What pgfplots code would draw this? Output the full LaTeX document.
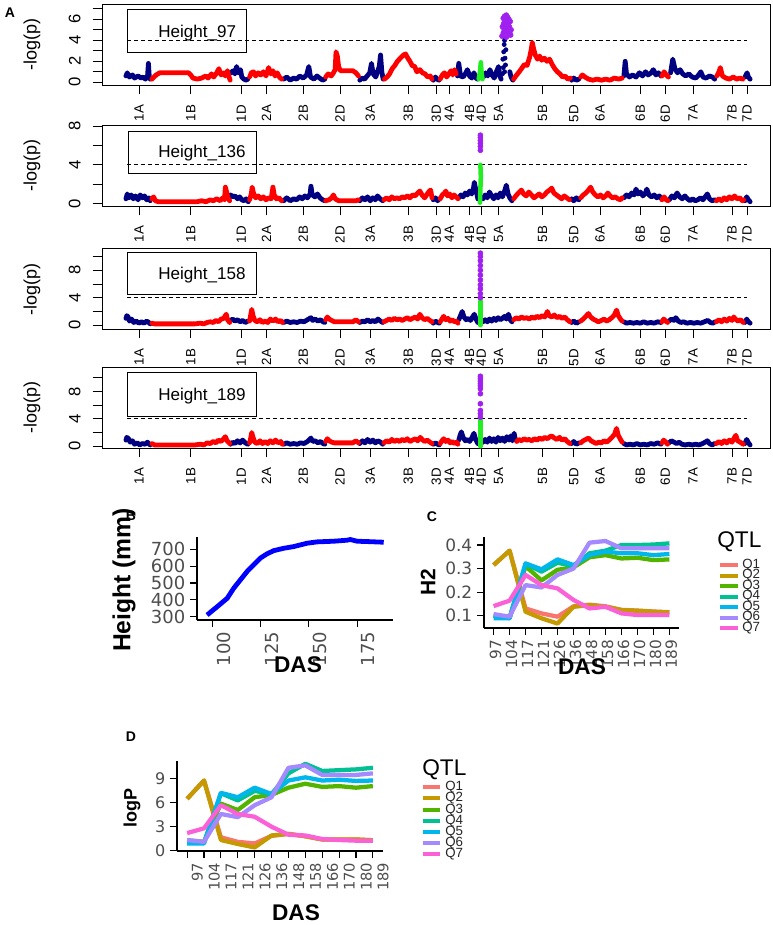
\documentclass[border=0pt]{standalone}
\usepackage{pgfplots}
\pgfplotsset{compat=1.18}
\usepackage{fontspec}
\setmainfont{Liberation Sans}
\newfontfamily\dejavu{DejaVu Sans}
\definecolor{navyR}{HTML}{000080}
\definecolor{redR}{HTML}{FF0000}
\definecolor{greenR}{HTML}{22EE22}
\definecolor{purpleR}{HTML}{A020F0}
\definecolor{gg1}{HTML}{F8766D}
\definecolor{gg2}{HTML}{C49A00}
\definecolor{gg3}{HTML}{53B400}
\definecolor{gg4}{HTML}{00C094}
\definecolor{gg5}{HTML}{00B6EB}
\definecolor{gg6}{HTML}{A58AFF}
\definecolor{gg7}{HTML}{FB61D7}
\definecolor{gray4D}{HTML}{4D4D4D}
\newcommand{\fs}[1]{\fontsize{#1}{#1}\selectfont}
\pgfplotsset{
  manh/.style={
    scale only axis, width=501pt, height=60.75pt, anchor=south west,
    xmin=4.6, xmax=1550,
    xtick={90,210,327,385,470,555,625,713,778,808,855,882,922,1024,1096,1157,1250,1308,1372,1462,1497},
    xticklabels={1A,1B,1D,2A,2B,2D,3A,3B,3D,4A,4B,4D,5A,5B,5D,6A,6B,6D,7A,7B,7D},
    tick align=outside, xtick pos=bottom, ytick pos=left,
    major tick length=7pt,
    tick style={black, line width=0.6pt},
    axis line style={line width=0.6pt},
    xticklabel style={rotate=90, anchor=east, font=\fs{10}, xshift=-4.5pt},
    yticklabel style={rotate=90, anchor=south, font=\fs{12.5}, yshift=5.5pt},
    /pgf/number format/assume math mode=true,
    unbounded coords=jump,
  },
  blu/.style={navyR, line width=3.6pt, line join=round, line cap=round},
  rd/.style={redR, line width=3.6pt, line join=round, line cap=round},
  grn/.style={greenR, line width=3.4pt, line join=round, line cap=round},
  pur/.style={only marks, mark=*, mark size=1.9pt, purpleR},
  thr/.style={black, line width=0.6pt, dash pattern=on 3pt off 2.2pt},
  gg/.style={
    scale only axis, anchor=south west,
    axis x line*=bottom, axis y line*=left,
    axis line style={line width=0.8pt},
    tick align=outside, major tick length=5.25pt,
    tick style={black, line width=0.8pt},
    /pgf/number format/assume math mode=true,
  },
  ql/.style={line width=3.2pt, line join=round},
}
\begin{document}
\begin{tikzpicture}[x=0.75pt,y=-0.75pt]
\useasboundingbox (0,0) rectangle (773,925);
% ---------------- Panel A1 -----------------
\begin{axis}[manh, at={(102*0.75pt,-85*0.75pt)}, ymin=-0.26, ymax=7.46,
  ytick={0,1,2,3,4,5,6,7}, yticklabels={0,,2,,4,,6,}]
\addplot[thr] coordinates {(63,4) (1497,4)};
\addplot[blu] coordinates {
(60,0.6)(63,0.9)(68,0.5)(75,0.7)(80,0.4)(88,0.6)(95,0.4)(100,0.5)(105,0.3)(110,0.6)(112,1.8)(114,0.5)(116,0.3)
(200,nan)
(303,0.9)(308,1.1)(312,0.8)(316,1.5)(320,0.9)(325,1.2)(328,0.5)(333,0.3)(338,0.2)(342,0.3)
(400,nan)
(425,0.3)(432,0.5)(440,0.2)(448,0.4)(455,0.3)(462,0.6)(470,0.4)(478,0.7)(483,1.5)(487,0.5)(495,0.3)(502,0.6)(508,0.4)(515,0.2)(520,0.3)
(560,nan)
(601,0.2)(606,0.4)(612,0.3)(618,0.6)(624,0.9)(628,1.8)(632,0.8)(638,0.5)(642,1.0)(646,1.5)(649,2.6)(652,1.0)(655,0.3)
(700,nan)
(771,0.2)(776,0.5)(780,0.3)(784,0.2)
(800,nan)
(827,0.6)(830,1.8)(834,0.6)(840,0.5)(845,0.8)(850,1.2)(855,0.6)(860,0.4)(865,0.9)(870,0.4)(873,0.3)
(875,nan)
(887,0.5)(892,0.9)(897,0.6)(902,1.2)(907,0.7)(912,0.4)(917,1.0)(922,1.5)(925,0.6)(928,0.3)
(930,nan)
(948,1.0)(951,0.5)(955,0.2)
(1000,nan)
(1091,0.2)(1096,0.4)(1102,0.2)(1108,0.3)
(1150,nan)
(1212,0.6)(1215,2.0)(1218,0.8)(1225,0.5)(1232,0.7)(1240,0.5)(1248,0.9)(1255,0.6)(1262,1.0)(1268,0.7)(1275,0.9)(1280,1.2)(1286,0.7)(1292,0.9)(1298,0.6)
(1310,nan)
(1320,0.9)(1325,2.2)(1330,1.3)(1336,0.9)(1342,1.2)(1348,0.8)(1355,0.6)(1362,0.8)(1370,0.5)(1378,0.4)(1385,0.7)(1390,1.0)(1395,0.5)(1402,0.4)(1410,0.6)(1417,0.5)(1422,0.3)
(1450,nan)
(1492,0.5)(1497,0.9)(1500,0.5)(1504,0.3)
};
\addplot[rd] coordinates {
(120,0.3)(125,0.5)(130,0.7)(138,0.9)(150,0.9)(170,0.9)(190,0.9)(205,0.9)(210,0.7)(215,0.4)(225,0.3)(235,0.4)(245,0.6)(250,0.4)(258,0.8)(263,0.5)(270,0.9)(275,1.3)(280,0.7)(286,0.9)(290,0.6)(295,1.1)(298,0.6)(301,0.2)
(320,nan)
(346,0.5)(350,0.9)(355,1.0)(360,0.6)(366,0.9)(372,0.7)(378,1.0)(384,0.6)(390,1.4)(395,0.8)(400,1.1)(405,0.6)(410,0.9)(415,0.5)(420,0.3)
(450,nan)
(522,0.5)(528,0.8)(535,0.6)(540,0.9)(544,1.2)(546,2.9)(549,2.5)(552,1.5)(556,1.1)(570,1.1)(585,1.1)(592,0.9)(598,0.6)
(620,nan)
(658,0.3)(664,0.5)(670,0.8)(676,1.3)(682,1.6)(688,2.0)(695,2.3)(702,2.6)(707,2.7)(712,2.3)(717,2.0)(722,1.6)(728,1.5)(733,1.0)(740,1.2)(746,0.9)(752,0.8)(758,0.5)(764,0.6)(768,0.3)
(775,nan)
(787,0.3)(792,0.7)(797,0.9)(802,0.5)(807,0.8)(812,1.1)(816,0.7)(820,1.2)(824,0.8)
(900,nan)
(957,0.3)(962,0.6)(968,0.9)(975,1.3)(982,1.7)(988,1.6)(994,2.4)(998,3.2)(1000,3.8)(1003,3.2)(1007,2.6)(1012,2.2)(1017,2.5)(1022,2.1)(1028,2.3)(1034,2.0)(1040,2.2)(1046,1.7)(1052,1.3)(1058,1.0)(1064,0.8)(1070,0.5)(1076,0.6)(1082,0.3)(1088,0.4)
(1100,nan)
(1112,0.5)(1116,0.7)(1122,0.5)(1130,0.3)(1140,0.2)(1150,0.3)(1160,0.2)(1170,0.3)(1180,0.2)(1190,0.4)(1200,0.3)(1208,0.4)
(1250,nan)
(1300,0.6)(1305,1.0)(1310,0.7)(1315,0.5)
(1400,nan)
(1427,0.6)(1432,1.0)(1435,1.4)(1440,0.6)(1448,0.4)(1456,0.3)(1465,0.5)(1473,0.3)(1480,0.4)(1487,0.3)
};
\addplot[grn] coordinates {(876,0.3)(879,1.0)(881,1.9)(883,0.8)(885,0.3)};
\addplot[only marks, mark=*, mark size=1.6pt, navyR] coordinates {(931,0.8)(936,1.0)(933,1.4)(938,1.65)(932,2.2)(937,2.3)(934,2.9)(939,3.1)(935,3.6)(936,4.0)};
\addplot[pur] coordinates {(930,4.4)(933,4.7)(935,5.0)(931,5.3)(934,5.6)(937,5.9)(933,6.1)(936,6.3)(940,6.4)(943,6.2)(946,6.0)(944,5.6)(947,5.3)(945,5.0)(948,4.7)(950,4.5)(939,5.2)(941,4.8)(938,5.5)(942,5.9)(949,5.8)(951,5.0)(940,4.3)(944,4.5)};
\end{axis}
% ---------------- Panel A2 -----------------
\begin{axis}[manh, at={(102*0.75pt,-206*0.75pt)}, ymin=-0.24, ymax=8.1,
  ytick={0,2,4,6,8}, yticklabels={0,,4,,8}]
\addplot[thr] coordinates {(63,4) (1497,4)};
\addplot[blu] coordinates {
(60,0.5)(63,1.0)(67,0.6)(72,0.9)(77,0.5)(82,0.8)(88,0.4)(93,0.9)(98,0.6)(103,0.8)(108,0.4)(113,0.6)(116,0.3)
(200,nan)
(302,0.9)(307,0.7)(312,0.8)(318,0.5)(323,0.7)(328,0.4)(333,0.3)(338,0.5)(343,0.2)
(400,nan)
(425,0.3)(432,0.6)(440,0.3)(448,0.5)(455,0.4)(462,0.7)(468,0.5)(474,0.8)(480,0.6)(486,1.0)(488,1.8)(491,0.9)(497,0.7)(503,1.0)(509,0.6)(515,0.4)(520,0.3)
(560,nan)
(601,0.3)(607,0.6)(613,0.4)(619,0.7)(625,0.3)(631,0.6)(637,0.4)(642,0.8)(648,0.5)(654,0.3)
(700,nan)
(771,0.4)(776,0.6)(781,0.3)(785,0.5)
(800,nan)
(830,0.6)(835,0.9)(840,0.7)(845,1.1)(850,0.9)(855,1.3)(860,1.0)(864,1.6)(866,2.2)(869,1.5)(872,1.0)(874,0.5)
(878,nan)
(886,0.5)(891,0.9)(896,0.6)(901,1.2)(906,0.8)(911,0.5)(916,0.9)(921,0.6)(926,1.1)(931,0.7)(936,1.3)(940,1.9)(944,1.0)(948,0.6)(953,0.3)
(1000,nan)
(1091,0.5)(1096,0.3)(1102,0.6)(1108,0.4)
(1150,nan)
(1212,0.6)(1218,0.9)(1224,0.7)(1230,1.1)(1236,0.9)(1240,1.5)(1245,1.0)(1250,1.2)(1256,0.8)(1262,1.1)(1265,1.5)(1270,0.9)(1276,0.7)(1282,0.9)(1288,0.6)(1294,0.8)(1299,0.5)
(1310,nan)
(1317,0.4)(1323,0.8)(1329,0.6)(1335,1.1)(1341,0.7)(1347,0.5)(1353,0.8)(1359,0.5)(1365,0.3)(1371,0.5)(1377,0.3)(1383,0.4)(1389,0.6)(1395,0.4)(1400,0.7)(1405,1.0)(1410,0.5)(1416,0.3)(1422,0.4)
(1450,nan)
(1492,0.3)(1496,0.7)(1500,0.4)(1504,0.2)
};
\addplot[rd] coordinates {
(120,0.5)(124,0.7)(128,0.3)(135,0.2)(150,0.2)(170,0.2)(190,0.2)(210,0.2)(225,0.2)(235,0.3)(245,0.2)(255,0.4)(262,0.3)(270,0.5)(278,0.3)(284,0.6)(288,0.4)(290,1.7)(293,1.2)(296,0.6)(300,0.3)
(320,nan)
(346,0.4)(350,1.0)(352,1.7)(355,1.1)(360,0.6)(366,0.8)(372,0.5)(378,0.7)(384,0.4)(390,0.6)(396,0.5)(400,1.7)(403,0.9)(408,0.5)(414,0.6)(420,0.3)
(450,nan)
(522,0.3)(530,0.4)(536,0.6)(540,0.9)(544,0.5)(552,0.3)(565,0.3)(580,0.3)(592,0.3)(598,0.4)
(620,nan)
(657,0.4)(663,0.6)(669,0.4)(675,0.7)(681,0.5)(687,0.6)(693,0.5)(699,0.7)(705,0.6)(711,0.8)(717,0.6)(723,0.9)(729,0.8)(735,1.1)(740,1.3)(745,0.9)(751,0.6)(757,1.0)(762,1.3)(765,1.4)(768,0.6)
(775,nan)
(787,0.5)(792,0.9)(797,1.1)(800,1.3)(804,0.8)(809,1.0)(814,0.6)(819,0.9)(824,0.7)(828,0.5)
(900,nan)
(957,0.5)(962,0.8)(968,1.1)(975,1.4)(980,1.0)(986,0.8)(992,1.2)(998,0.9)(1004,0.6)(1010,0.8)(1016,1.0)(1022,0.7)(1028,0.9)(1034,1.2)(1040,1.4)(1045,1.6)(1050,1.1)(1056,0.9)(1062,0.7)(1068,0.5)(1074,0.8)(1080,0.6)(1086,0.4)
(1100,nan)
(1112,0.6)(1118,0.9)(1124,1.1)(1130,1.4)(1135,1.7)(1140,1.2)(1146,0.9)(1152,0.7)(1158,0.9)(1164,0.6)(1170,0.8)(1175,1.1)(1180,0.8)(1186,0.6)(1192,0.7)(1198,0.5)(1204,0.4)(1208,0.6)
(1250,nan)
(1300,0.4)(1305,0.7)(1310,0.4)(1314,0.3)
(1400,nan)
(1426,0.3)(1432,0.5)(1438,0.3)(1444,0.6)(1450,0.4)(1456,0.7)(1462,0.5)(1468,0.8)(1474,0.5)(1480,0.6)(1486,0.3)(1489,0.4)
};
\addplot[grn] coordinates {(879,0.1)(880,1.5)(881,2.8)(880,4.0)};
\addplot[pur] coordinates {(880,5.5)(880,5.9)(880,6.2)(880,6.5)(880,6.8)(880,7.05)};
\end{axis}
% ---------------- Panel A3 -----------------
\begin{axis}[manh, at={(102*0.75pt,-329*0.75pt)}, ymin=-0.55, ymax=11.25,
  ytick={0,2,4,6,8,10}, yticklabels={0,,4,,8,}]
\addplot[thr] coordinates {(63,4) (1497,4)};
\addplot[blu] coordinates {
(60,1.0)(62,1.4)(65,1.2)(68,0.6)(73,0.9)(78,0.4)(84,0.6)(90,0.3)(96,0.5)(102,0.3)(108,0.6)(113,0.4)(116,0.2)
(200,nan)
(302,0.7)(307,0.9)(312,0.6)(318,0.8)(324,0.5)(330,0.7)(336,0.4)(342,0.6)
(400,nan)
(425,0.4)(432,0.6)(440,0.4)(448,0.5)(456,0.4)(464,0.6)(472,0.5)(480,0.8)(488,1.1)(492,0.7)(498,0.9)(504,0.6)(510,0.8)(516,0.5)(520,0.4)
(560,nan)
(601,0.4)(607,0.6)(613,0.5)(619,0.8)(625,0.5)(631,0.7)(637,0.5)(643,0.9)(649,0.6)(654,0.4)
(700,nan)
(771,0.3)(776,0.6)(781,0.4)(785,0.3)
(800,nan)
(830,0.8)(834,1.4)(838,2.0)(842,1.2)(847,0.8)(852,1.0)(857,0.7)(862,1.2)(866,1.6)(870,0.9)(874,0.4)
(878,nan)
(886,0.5)(891,0.8)(896,0.5)(901,0.9)(906,0.6)(911,1.0)(916,0.7)(921,1.1)(926,0.8)(931,1.0)(936,1.3)(940,0.9)(945,1.6)(949,0.8)(953,0.5)
(1000,nan)
(1091,0.4)(1096,0.6)(1102,0.3)(1108,0.5)
(1150,nan)
(1212,0.5)(1218,0.3)(1226,0.4)(1234,0.3)(1242,0.4)(1250,0.3)(1258,0.5)(1266,0.3)(1274,0.4)(1282,0.3)(1290,0.5)(1298,0.4)
(1310,nan)
(1316,0.6)(1322,0.9)(1328,0.7)(1332,1.1)(1338,0.6)(1344,0.4)(1350,0.5)(1358,0.3)(1366,0.4)(1374,0.3)(1382,0.4)(1390,0.3)(1398,0.5)(1406,0.7)(1412,0.4)(1418,0.3)(1423,0.5)
(1450,nan)
(1492,0.4)(1496,0.9)(1500,0.5)(1504,0.3)
};
\addplot[rd] coordinates {
(120,0.3)(126,0.2)(140,0.2)(160,0.2)(180,0.2)(200,0.2)(220,0.2)(232,0.3)(240,0.2)(248,0.4)(255,0.5)(262,0.4)(268,0.7)(274,0.5)(280,0.9)(286,1.0)(292,1.6)(295,0.8)(300,0.4)
(320,nan)
(346,0.6)(349,1.6)(351,2.3)(354,1.4)(358,0.7)(364,0.5)(370,0.8)(376,0.4)(382,0.6)(388,0.4)(394,0.9)(400,0.6)(406,0.9)(412,0.5)(418,0.7)(422,0.4)
(450,nan)
(522,0.8)(526,1.2)(530,0.9)(536,0.7)(542,0.5)(555,0.5)(570,0.5)(585,0.5)(592,0.8)(598,0.5)
(620,nan)
(657,0.5)(663,0.7)(669,0.9)(675,0.7)(681,1.0)(687,0.8)(693,0.9)(699,0.7)(705,0.9)(711,1.1)(717,0.8)(723,1.0)(729,1.2)(735,0.9)(740,1.6)(745,1.1)(751,0.8)(757,1.0)(763,0.7)(768,0.5)
(775,nan)
(787,0.5)(791,0.9)(795,1.3)(800,0.8)(805,1.0)(810,0.6)(815,0.8)(820,0.5)(825,0.6)(828,0.3)
(900,nan)
(957,0.8)(963,1.1)(969,0.9)(975,1.2)(981,1.0)(987,1.1)(993,0.9)(999,1.2)(1005,1.0)(1011,1.3)(1017,1.1)(1023,1.4)(1029,1.2)(1035,2.0)(1039,1.4)(1045,1.2)(1051,1.5)(1057,1.1)(1063,1.3)(1069,1.0)(1075,1.2)(1081,0.8)(1087,0.5)
(1100,nan)
(1112,0.6)(1118,0.9)(1124,1.3)(1130,1.7)(1135,1.2)(1141,0.9)(1147,0.7)(1153,0.5)(1160,0.7)(1166,0.9)(1172,0.6)(1178,0.8)(1184,1.1)(1190,1.5)(1195,2.2)(1199,1.4)(1204,0.9)(1208,0.6)
(1250,nan)
(1300,0.5)(1304,0.9)(1309,0.6)(1313,0.4)
(1400,nan)
(1426,0.5)(1432,0.8)(1438,0.5)(1444,0.9)(1450,0.6)(1456,1.0)(1462,0.7)(1466,1.2)(1470,0.9)(1476,0.6)(1482,0.8)(1488,0.4)
};
\addplot[grn] coordinates {(880,0.0)(880,1.8)(880,3.5)};
\addplot[pur] coordinates {(880,4.0)(880,4.6)(880,5.3)(880,5.9)(880,6.6)(880,7.3)(880,8.0)(880,8.7)(880,9.4)(880,10.0)(880,10.5)};
\end{axis}
% ---------------- Panel A4 -----------------
\begin{axis}[manh, at={(102*0.75pt,-448*0.75pt)}, ymin=-0.25, ymax=11.55,
  ytick={0,2,4,6,8,10}, yticklabels={0,,4,,8,}]
\addplot[thr] coordinates {(63,4) (1497,4)};
\addplot[blu] coordinates {
(60,0.9)(62,1.3)(66,1.1)(70,0.6)(75,0.8)(80,0.3)(86,0.5)(92,0.2)(98,0.4)(104,0.3)(110,0.6)(114,0.3)(116,0.2)
(200,nan)
(302,0.3)(307,0.6)(312,0.4)(318,0.8)(324,0.5)(330,0.9)(336,0.5)(342,0.3)
(400,nan)
(425,0.3)(432,0.5)(440,0.3)(448,0.4)(456,0.3)(464,0.5)(472,0.4)(480,0.7)(488,1.2)(492,0.7)(498,0.8)(504,0.5)(510,0.7)(516,0.4)(520,0.3)
(560,nan)
(601,0.4)(607,0.8)(613,0.5)(619,1.0)(625,0.6)(631,0.9)(637,0.5)(643,0.8)(649,0.6)(654,0.3)
(700,nan)
(771,0.3)(776,0.5)(781,0.3)(785,0.2)
(800,nan)
(830,0.9)(833,1.6)(836,2.1)(840,1.3)(845,0.8)(850,1.0)(855,0.7)(860,1.2)(865,1.9)(869,1.0)(874,0.4)
(878,nan)
(886,0.6)(891,1.0)(896,0.6)(901,1.2)(906,0.7)(911,1.1)(916,0.6)(921,1.3)(926,0.8)(931,1.2)(936,0.7)(941,1.4)(946,0.9)(950,1.5)(954,0.8)(958,1.9)(961,0.9)
(1000,nan)
(1091,0.4)(1096,0.7)(1102,0.3)(1108,0.5)
(1150,nan)
(1212,0.4)(1218,0.2)(1226,0.3)(1234,0.2)(1242,0.4)(1250,0.2)(1258,0.3)(1266,0.2)(1274,0.4)(1282,0.3)(1290,0.5)(1298,0.3)
(1310,nan)
(1316,0.5)(1322,0.8)(1328,0.6)(1334,0.4)(1340,0.6)(1346,0.3)(1354,0.2)(1362,0.3)(1370,0.2)(1378,0.3)(1386,0.2)(1394,0.4)(1400,0.6)(1405,0.8)(1410,0.4)(1416,0.2)(1422,0.4)
(1450,nan)
(1492,0.4)(1496,1.0)(1500,0.5)(1504,0.2)
};
\addplot[rd] coordinates {
(120,0.4)(126,0.2)(140,0.2)(160,0.2)(180,0.2)(200,0.2)(220,0.2)(232,0.3)(240,0.2)(248,0.5)(255,0.4)(262,0.7)(268,0.5)(274,0.9)(280,0.7)(286,1.1)(290,1.4)(294,0.8)(300,0.4)
(320,nan)
(346,0.5)(349,1.3)(351,2.0)(354,1.3)(358,0.6)(364,0.4)(370,0.8)(376,0.4)(382,0.7)(388,0.4)(394,0.8)(400,0.5)(406,0.9)(412,0.5)(418,0.7)(422,0.3)
(450,nan)
(522,0.7)(526,1.1)(530,0.8)(536,0.6)(542,0.5)(555,0.5)(570,0.5)(585,0.5)(592,0.8)(598,0.5)
(620,nan)
(657,0.5)(663,0.8)(669,0.6)(675,1.0)(681,0.7)(687,0.9)(693,0.7)(699,1.0)(705,0.8)(711,1.1)(717,0.7)(723,0.9)(729,1.1)(735,0.8)(741,1.3)(745,1.0)(751,0.7)(757,0.9)(763,0.6)(768,0.4)
(775,nan)
(787,0.4)(791,0.8)(795,1.1)(800,0.7)(805,0.9)(810,0.5)(815,0.7)(820,0.4)(825,0.6)(828,0.3)
(900,nan)
(964,0.7)(969,1.0)(975,0.8)(981,1.1)(987,0.9)(993,1.0)(999,0.8)(1005,1.1)(1011,0.9)(1017,1.2)(1023,1.0)(1029,1.3)(1035,1.1)(1041,1.4)(1045,1.5)(1051,1.2)(1057,1.0)(1063,1.3)(1069,0.9)(1075,1.1)(1081,0.7)(1087,0.4)
(1100,nan)
(1112,0.5)(1118,0.8)(1124,1.0)(1130,1.2)(1136,0.8)(1142,0.6)(1148,0.4)(1154,0.6)(1160,0.5)(1166,0.8)(1172,0.6)(1178,0.9)(1184,1.3)(1190,1.7)(1195,2.6)(1199,1.6)(1204,1.0)(1208,0.6)
(1250,nan)
(1300,0.5)(1304,0.9)(1309,0.6)(1313,0.3)
(1400,nan)
(1426,0.4)(1432,0.7)(1438,0.4)(1444,0.8)(1450,0.5)(1456,0.9)(1462,0.6)(1468,1.3)(1471,1.6)(1475,0.8)(1481,0.6)(1488,0.3)
};
\addplot[grn] coordinates {(880,0.0)(880,1.9)(880,3.8)};
\addplot[pur] coordinates {(880,4.24)(880,4.73)(880,5.22)(880,6.2)(880,7.66)(880,8.39)(880,8.8)(880,9.12)(880,9.5)(880,9.85)(880,10.2)};
\end{axis}
% legend boxes and labels for panel A
\draw[line width=0.6pt] (127,9) rectangle (246,52);
\node[anchor=west, inner sep=0pt, font=\fs{12.8}] at (158,33) {Height\_97};
\draw[line width=0.6pt] (128,131) rectangle (256,173);
\node[anchor=west, inner sep=0pt, font=\fs{12.8}] at (158,153) {Height\_136};
\draw[line width=0.6pt] (127,252) rectangle (256,294);
\node[anchor=west, inner sep=0pt, font=\fs{12.8}] at (158,275) {Height\_158};
\draw[line width=0.6pt] (127,372) rectangle (256,416);
\node[anchor=west, inner sep=0pt, font=\fs{12.8}] at (158,396) {Height\_189};
\foreach \yy in {44.5,165.5,289.5,407.5} {
  \node[rotate=90, font=\fs{13.5}] at (32,\yy) {-log(p)};
}
\node[font=\bfseries\fs{10.5}] at (10,13) {A};
% ---------------- Panel B -----------------
\begin{axis}[gg, at={(197*0.75pt,-620*0.75pt)}, width=147pt, height=62.25pt,
  xmin=92.2, xmax=193.6, ymin=280.4, ymax=773,
  xtick={100,125,150,175}, ytick={300,400,500,600,700},
  yticklabel style={font=\dejavu\fs{13.5}, color=gray4D},
  xticklabel style={font=\dejavu\fs{13.5}, color=gray4D, rotate=90, anchor=north east}]
\addplot[blue, line width=3.6pt, line join=round] coordinates {
(97.4,310)(102.6,359)(107.8,409)(111.2,469)(114.6,518)(118.1,568)(121.5,608)(125,648)(128.4,673)(131.9,692)(137,706)(142.2,716)(149.1,736)(154.3,744)(162.9,748)(169.8,754)(171.5,758)(175,748)(180.2,746)(188.8,742)};
\end{axis}
\node[rotate=90, font=\bfseries\fs{18.5}] at (124,580) {Height (mm)};
\node[font=\bfseries\fs{17}] at (298,665) {DAS};
\node[font=\bfseries\fs{10.5}] at (131,516) {B};
% ---------------- Panel C -----------------
\begin{axis}[gg, at={(484*0.75pt,-628*0.75pt)}, width=146.25pt, height=68.25pt,
  xmin=-0.6, xmax=11.6, ymin=0.048, ymax=0.434,
  xtick={0,...,11}, xticklabels={97,104,117,121,126,136,148,158,166,170,180,189},
  ytick={0.1,0.2,0.3,0.4}, yticklabels={0.1,0.2,0.3,0.4},
  yticklabel style={font=\dejavu\fs{12.75}, color=gray4D},
  xticklabel style={font=\dejavu\fs{11.5}, color=gray4D, rotate=90, anchor=east, yshift=-1.5pt}]
\addplot[ql, gg1] coordinates {(0,0.315)(1,0.376)(2,0.131)(3,0.110)(4,0.096)(5,0.140)(6,0.147)(7,0.140)(8,0.125)(9,0.122)(10,0.118)(11,0.115)};
\addplot[ql, gg2] coordinates {(0,0.315)(1,0.376)(2,0.117)(3,0.089)(4,0.067)(5,0.138)(6,0.145)(7,0.138)(8,0.124)(9,0.121)(10,0.117)(11,0.114)};
\addplot[ql, gg3] coordinates {(0,0.10)(1,0.09)(2,0.31)(3,0.25)(4,0.295)(5,0.305)(6,0.348)(7,0.357)(8,0.343)(9,0.346)(10,0.336)(11,0.339)};
\addplot[ql, gg4] coordinates {(0,0.10)(1,0.09)(2,0.32)(3,0.287)(4,0.325)(5,0.31)(6,0.365)(7,0.376)(8,0.40)(9,0.40)(10,0.402)(11,0.407)};
\addplot[ql, gg5] coordinates {(0,0.089)(1,0.089)(2,0.322)(3,0.297)(4,0.339)(5,0.315)(6,0.357)(7,0.372)(8,0.365)(9,0.365)(10,0.357)(11,0.362)};
\addplot[ql, gg6] coordinates {(0,0.107)(1,0.096)(2,0.23)(3,0.22)(4,0.273)(5,0.30)(6,0.41)(7,0.417)(8,0.386)(9,0.386)(10,0.386)(11,0.386)};
\addplot[ql, gg7] coordinates {(0,0.141)(1,0.164)(2,0.273)(3,0.23)(4,0.216)(5,0.167)(6,0.131)(7,0.138)(8,0.11)(9,0.103)(10,0.103)(11,0.103)};
\end{axis}
\node[rotate=90, font=\bfseries\fs{15.7}] at (428,582) {H2};
\node[font=\bfseries\fs{17}] at (582,667) {DAS};
\node[font=\bfseries\fs{10.5}] at (432,517) {C};
\node[anchor=west, inner sep=0pt, font=\fs{17}] at (717,541.5) {QTL};
\foreach \c/\t [count=\i from 0] in {gg1/Q1,gg2/Q2,gg3/Q3,gg4/Q4,gg5/Q5,gg6/Q6,gg7/Q7} {
  \draw[\c, line width=3pt] (720,565+10.5*\i) -- (738,565+10.5*\i);
  \node[anchor=west, inner sep=0pt, font=\fs{10}, text=black!85] at (742,565+10.5*\i) {\t};
}
% ---------------- Panel D -----------------
\begin{axis}[gg, at={(177*0.75pt,-851*0.75pt)}, width=154.5pt, height=67.5pt,
  xmin=-0.6, xmax=11.6, ymin=-0.05, ymax=11.25,
  xtick={0,...,11}, xticklabels={97,104,117,121,126,136,148,158,166,170,180,189},
  ytick={0,3,6,9},
  yticklabel style={font=\dejavu\fs{12}, color=gray4D},
  xticklabel style={font=\dejavu\fs{11}, color=gray4D, rotate=90, anchor=north east}]
\addplot[ql, gg1] coordinates {(0,6.5)(1,8.8)(2,1.67)(3,1.1)(4,0.9)(5,1.85)(6,2.1)(7,1.8)(8,1.4)(9,1.4)(10,1.4)(11,1.3)};
\addplot[ql, gg2] coordinates {(0,6.5)(1,8.8)(2,1.33)(3,0.83)(4,0.4)(5,1.9)(6,2.1)(7,1.8)(8,1.4)(9,1.4)(10,1.4)(11,1.3)};
\addplot[ql, gg3] coordinates {(0,1.3)(1,1.1)(2,5.9)(3,5.1)(4,6.7)(5,7.0)(6,7.9)(7,8.4)(8,8.0)(9,8.1)(10,7.9)(11,8.1)};
\addplot[ql, gg4] coordinates {(0,1.0)(1,1.0)(2,7.2)(3,6.3)(4,7.5)(5,7.1)(6,9.7)(7,10.9)(8,10.0)(9,10.1)(10,10.2)(11,10.4)};
\addplot[ql, gg5] coordinates {(0,0.9)(1,0.9)(2,7.25)(3,6.7)(4,7.9)(5,7.1)(6,8.8)(7,9.2)(8,8.8)(9,8.9)(10,8.75)(11,8.8)};
\addplot[ql, gg6] coordinates {(0,1.33)(1,1.1)(2,4.6)(3,4.2)(4,5.7)(5,6.7)(6,10.4)(7,10.7)(8,9.5)(9,9.5)(10,9.5)(11,9.7)};
\addplot[ql, gg7] coordinates {(0,2.2)(1,2.8)(2,5.7)(3,4.6)(4,4.25)(5,3.0)(6,2.0)(7,1.9)(8,1.45)(9,1.33)(10,1.25)(11,1.25)};
\end{axis}
\node[rotate=90, font=\bfseries\fs{13.5}] at (132,808) {logP};
\node[font=\bfseries\fs{17}] at (296,913) {DAS};
\node[font=\bfseries\fs{10.5}] at (131,737) {D};
\node[anchor=west, inner sep=0pt, font=\fs{17}] at (422,769.5) {QTL};
\foreach \c/\t [count=\i from 0] in {gg1/Q1,gg2/Q2,gg3/Q3,gg4/Q4,gg5/Q5,gg6/Q6,gg7/Q7} {
  \draw[\c, line width=3pt] (423,787.3+11.17*\i) -- (440,787.3+11.17*\i);
  \node[anchor=west, inner sep=0pt, font=\fs{10}, text=black!85] at (445,787.3+11.17*\i) {\t};
}
\end{tikzpicture}
\end{document}
